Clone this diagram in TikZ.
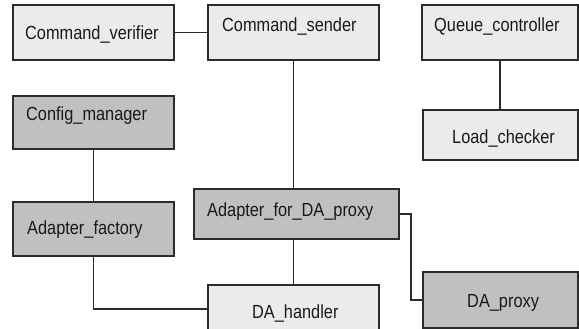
\documentclass[tikz,border=0pt]{standalone}
\usepackage{fontspec}
\setmainfont{Liberation Sans}[FakeStretch=0.86]
\definecolor{lightbox}{HTML}{EBEBEB}
\definecolor{darkbox}{HTML}{C0C0C0}
\definecolor{edge}{HTML}{2B2B2B}
\begin{document}
\begin{tikzpicture}[x=1pt,y=-1pt,
  box/.style={draw=edge, line width=1.4pt, anchor=north west, inner sep=0pt, outer sep=0pt},
  light/.style={box, fill=lightbox},
  dark/.style={box, fill=darkbox},
  lbl/.style={anchor=base west, inner sep=0pt, text=black!90, font=\fontsize{19}{22}\selectfont},
  link/.style={draw=edge, line width=1.4pt}]
\useasboundingbox (0,0) rectangle (579,329);
\clip (0,0) rectangle (579,329);
% boxes
\node[light, minimum width=161pt, minimum height=55pt] (cv) at (13,5) {};
\node[light, minimum width=171pt, minimum height=55pt] (cs) at (208,5) {};
\node[light, minimum width=156pt, minimum height=55pt] (qc) at (422,5) {};
\node[light, minimum width=155pt, minimum height=50pt] (lc) at (423,110) {};
\node[dark, minimum width=161pt, minimum height=53pt] (cm) at (13,96) {};
\node[dark, minimum width=161pt, minimum height=54pt] (af) at (13,202) {};
\node[dark, minimum width=205pt, minimum height=50pt] (afp) at (194,189) {};
\node[light, minimum width=171pt, minimum height=48pt] (dh) at (208,285) {};
\node[dark, minimum width=155pt, minimum height=56pt] (dp) at (423,272) {};
% labels
\node[lbl] (tcv) at (25,40) {Command\_verifier};
\node[lbl] (tcs) at (222,32) {Command\_sender};
\node[lbl] (tqc) at (434,32) {Queue\_controller};
\node[lbl] (tlc) at (452,143) {Load\_checker};
\node[lbl] (tcm) at (26,121) {Config\_manager};
\node[lbl] (taf) at (27,234) {Adapter\_factory};
\node[lbl] (tafp) at (207,216) {Adapter\_for\_DA\_proxy};
\node[lbl] (tdh) at (252,318) {DA\_handler};
\node[lbl] (tdp) at (467,307) {DA\_proxy};
% connectors
\draw[link] (cv.east) -- (cs.west);
\draw[link] (cs.south) -- (cs.south |- afp.north);
\draw[link] (afp.south -| dh.north) -- (dh.north);
\draw[link] (qc.south) -- (lc.north -| qc.south);
\draw[link] (cm.south) -- (af.north -| cm.south);
\draw[link] (af.south) |- (dh.west);
\draw[link] (afp.east) -- ++(12,0) |- (dp.west);
\end{tikzpicture}
\end{document}
